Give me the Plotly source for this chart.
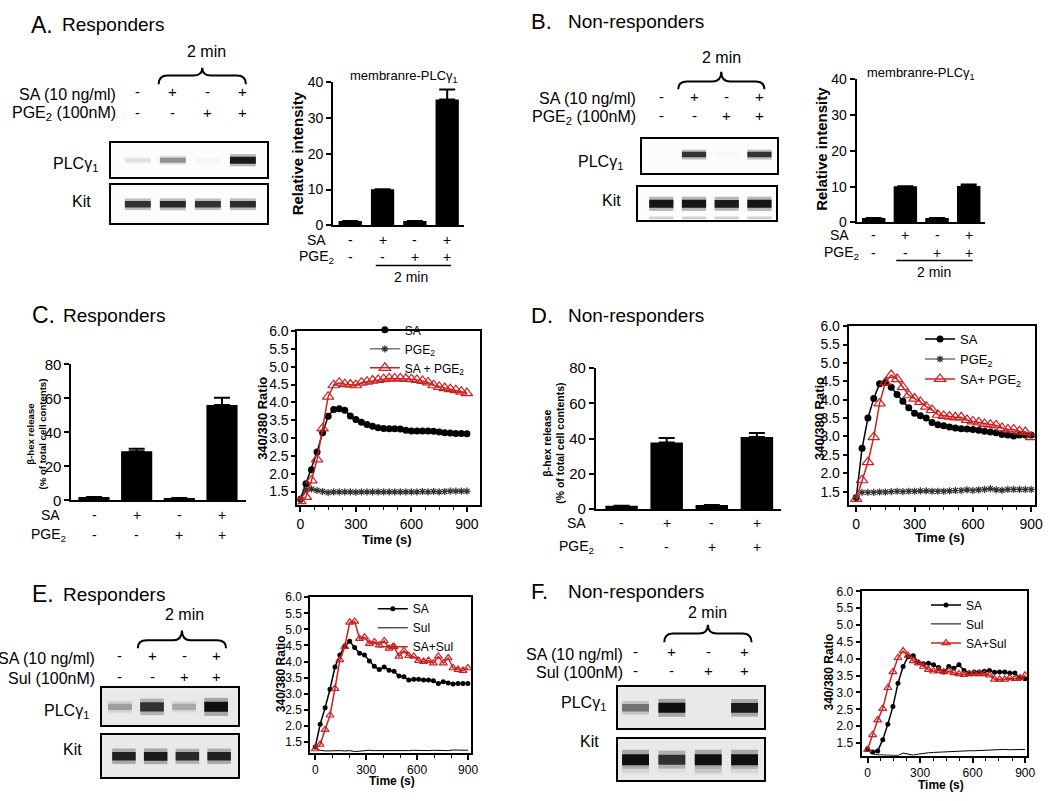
import plotly.graph_objects as go

W, H = 1050, 801
FONT = "Liberation Sans, Arial, sans-serif"
RED = "#cc2020"

# ---------------- data ----------------
lanes = [1, 2, 3, 4]
groups = [0, 1, 2, 3]
sa_signs = ["-", "+", "-", "+"]
pge2_signs = ["-", "-", "+", "+"]
sul_signs = ["-", "-", "+", "+"]

# western blot band darkness per lane (0 = no band, 1 = saturated)
a_plc = [0.12, 0.45, 0.03, 0.95]
a_kit = [0.85, 0.9, 0.85, 0.88]
b_plc = [0.0, 0.85, 0.02, 0.85]
b_kit = [0.97, 0.97, 0.95, 0.97]
b_kit_low = [0.18, 0.18, 0.18, 0.18]
e_plc = [0.35, 0.85, 0.3, 1.0]
e_kit = [0.92, 0.95, 0.88, 0.92]
f_plc = [0.55, 1.0, 0.0, 0.95]
f_kit = [1.0, 0.85, 1.0, 1.0]
f_kit_low = [0.08, 0.05, 0.15, 0.08]

# membrane PLCg1, relative intensity
a_rel = [1.2, 10.1, 1.2, 35.2]
a_rel_err = [0, 0, 0, 2.8]
b_rel = [1.2, 10.1, 1.2, 10.2]
b_rel_err = [0, 0, 0, 0.4]

# beta-hex release (% of total cell contents)
c_hex = [1.9, 28.8, 1.4, 56.0]
c_hex_err = [0, 1.6, 0, 4.4]
d_hex = [1.9, 37.8, 2.3, 41.0]
d_hex_err = [0, 2.6, 0, 2.2]

# calcium traces, 340/380 ratio
time_30 = [0, 30, 60, 90, 120, 150, 180, 210, 240, 270, 300, 330, 360, 390, 420, 450,
           480, 510, 540, 570, 600, 630, 660, 690, 720, 750, 780, 810, 840, 870, 900]
time_29 = [0, 29, 58, 87, 116, 145, 174, 203, 232, 261, 290, 319, 348, 377, 406, 435,
           464, 493, 522, 551, 580, 609, 638, 667, 696, 725, 754, 783, 812, 841, 870, 899]

c_sa = [1.28, 1.72, 2.11, 2.61, 3.15, 3.61, 3.80, 3.82, 3.78, 3.62, 3.52, 3.44, 3.38, 3.33, 3.29, 3.27,
        3.26, 3.26, 3.25, 3.22, 3.20, 3.20, 3.20, 3.20, 3.19, 3.17, 3.15, 3.14, 3.13, 3.13, 3.12]
c_pge2 = [1.28, 1.55, 1.57, 1.53, 1.50, 1.47, 1.49, 1.49, 1.49, 1.49, 1.48, 1.49, 1.49, 1.49, 1.49, 1.49,
          1.49, 1.49, 1.49, 1.49, 1.49, 1.49, 1.50, 1.49, 1.50, 1.49, 1.50, 1.51, 1.51, 1.51, 1.51]
c_sa_pge2 = [1.23, 1.35, 1.81, 2.40, 3.27, 4.16, 4.48, 4.55, 4.51, 4.50, 4.48, 4.55, 4.58, 4.61, 4.63, 4.65,
             4.67, 4.67, 4.67, 4.66, 4.65, 4.63, 4.60, 4.56, 4.48, 4.43, 4.40, 4.37, 4.34, 4.30, 4.26]

d_sa = [1.34, 2.68, 3.50, 4.03, 4.43, 4.47, 4.34, 4.14, 3.96, 3.78, 3.63, 3.56, 3.50, 3.38, 3.32, 3.29,
        3.26, 3.23, 3.21, 3.20, 3.19, 3.17, 3.14, 3.12, 3.10, 3.05, 3.04, 3.01, 3.04, 3.04, 3.04]
d_pge2 = [1.34, 1.48, 1.48, 1.48, 1.49, 1.49, 1.50, 1.51, 1.50, 1.51, 1.51, 1.52, 1.52, 1.51, 1.51, 1.51,
          1.52, 1.53, 1.53, 1.55, 1.53, 1.55, 1.56, 1.58, 1.55, 1.54, 1.56, 1.56, 1.56, 1.56, 1.56]
d_sa_pge2 = [1.30, 1.81, 2.30, 2.98, 3.90, 4.47, 4.67, 4.56, 4.34, 4.12, 4.03, 3.94, 3.81, 3.72, 3.59, 3.56,
             3.54, 3.52, 3.52, 3.45, 3.41, 3.38, 3.34, 3.32, 3.30, 3.23, 3.19, 3.19, 3.14, 3.12, 2.98]

e_sa = [1.34, 2.05, 2.56, 3.14, 3.83, 4.20, 4.48, 4.63, 4.44, 4.26, 4.20, 4.02, 3.85, 3.75, 3.83, 3.73,
        3.70, 3.55, 3.53, 3.43, 3.45, 3.45, 3.43, 3.43, 3.40, 3.32, 3.37, 3.33, 3.30, 3.32, 3.32, 3.32]
e_sul = [1.30, 1.24, 1.22, 1.23, 1.22, 1.23, 1.22, 1.23, 1.20, 1.22, 1.23, 1.24, 1.23, 1.23, 1.22, 1.23,
         1.22, 1.21, 1.22, 1.23, 1.24, 1.23, 1.22, 1.23, 1.24, 1.23, 1.24, 1.23, 1.25, 1.24, 1.24, 1.24]
e_sa_sul = [1.28, 1.42, 1.88, 2.33, 3.16, 4.05, 4.46, 5.22, 5.25, 4.71, 4.76, 4.56, 4.61, 4.51, 4.64, 4.41,
            4.46, 4.16, 4.33, 4.18, 4.16, 4.03, 4.00, 4.03, 3.95, 4.16, 3.95, 4.11, 3.80, 3.75, 3.72, 3.80]

f_sa = [1.32, 1.23, 1.26, 1.60, 2.06, 2.58, 3.27, 3.77, 4.06, 4.09, 3.90, 3.85, 3.87, 3.82, 3.74, 3.61,
        3.77, 3.72, 3.82, 3.65, 3.58, 3.61, 3.61, 3.63, 3.65, 3.60, 3.61, 3.61, 3.58, 3.58, 3.42, 3.41]
f_sul = [1.28, 1.18, 1.15, 1.14, 1.14, 1.13, 1.13, 1.20, 1.17, 1.14, 1.17, 1.20, 1.21, 1.22, 1.23, 1.24,
         1.25, 1.26, 1.26, 1.27, 1.27, 1.27, 1.28, 1.28, 1.28, 1.29, 1.30, 1.31, 1.30, 1.31, 1.32, 1.31]
f_sa_sul = [1.30, 1.74, 2.18, 2.52, 3.14, 3.61, 4.03, 4.23, 4.09, 3.94, 3.87, 3.77, 3.68, 3.63, 3.65, 3.61,
            3.63, 3.58, 3.55, 3.53, 3.55, 3.55, 3.55, 3.55, 3.51, 3.39, 3.39, 3.39, 3.43, 3.41, 3.43, 3.51]

# ---------------- helpers ----------------
fig = go.Figure()
axes = {}
anns = []
shapes = []


def ids(k):
    return ("x", "y") if k == 1 else (f"x{k}", f"y{k}")


def axis_pair(k, box, xr, yr, xkw, ykw):
    x0, x1, yt, yb = box
    xid, yid = ids(k)
    base = dict(showgrid=False, zeroline=False, fixedrange=True, linecolor="black",
                tickcolor="black")
    xa = dict(base, domain=[x0 / W, x1 / W], range=xr, anchor=yid)
    ya = dict(base, domain=[1 - yb / H, 1 - yt / H], range=yr, anchor=xid)
    xa.update(xkw)
    ya.update(ykw)
    axes["xaxis" if k == 1 else f"xaxis{k}"] = xa
    axes["yaxis" if k == 1 else f"yaxis{k}"] = ya
    return xid, yid


def note(x, y, text, size, xanchor="center", xref="paper", bold=False, angle=0):
    if bold:
        text = f"<b>{text}</b>"
    anns.append(dict(x=x / W if xref == "paper" else x, y=1 - y / H, xref=xref, yref="paper",
                     text=text, showarrow=False, xanchor=xanchor, yanchor="middle",
                     textangle=angle, font=dict(family=FONT, size=size, color="black")))


def hline(x0, x1, y, width=1.5):
    shapes.append(dict(type="line", xref="paper", yref="paper", x0=x0 / W, x1=x1 / W,
                       y0=1 - y / H, y1=1 - y / H, line=dict(color="black", width=width)))


def brace(xl, xr, yb, ym, yt):
    xc = (xl + xr) / 2
    r = 9
    X = lambda v: f"{v / W:.5f}"
    Y = lambda v: f"{1 - v / H:.5f}"
    path = (f"M {X(xl)},{Y(yb)} Q {X(xl)},{Y(ym)} {X(xl + r)},{Y(ym)} L {X(xc - r)},{Y(ym)} "
            f"Q {X(xc)},{Y(ym)} {X(xc)},{Y(yt)} Q {X(xc)},{Y(ym)} {X(xc + r)},{Y(ym)} "
            f"L {X(xr - r)},{Y(ym)} Q {X(xr)},{Y(ym)} {X(xr)},{Y(yb)}")
    shapes.append(dict(type="path", xref="paper", yref="paper", path=path,
                       line=dict(color="black", width=2)))


blot_kw = dict(showline=True, mirror=True, linewidth=1.5, showticklabels=False, ticks="")


def blot(k, box, lane_px, rows, bg_gray, band_px):
    x0, x1, yt, yb = box
    s = (lane_px[1] - lane_px[0]) / 3
    xr = [1 - (lane_px[0] - x0) / s, 4 + (x1 - lane_px[1]) / s]
    xid, yid = axis_pair(k, box, xr, [-1, 1], blot_kw, blot_kw)
    shapes.append(dict(type="rect", xref=f"{xid} domain", yref=f"{yid} domain", x0=0, x1=1,
                       y0=0, y1=1, fillcolor=f"rgb({bg_gray},{bg_gray},{bg_gray})",
                       line_width=0, layer="below"))
    for intens, level, scale in rows:
        for lane, v in zip(lanes, intens):
            if v < 0.02:
                continue
            g = int(round(bg_gray - (bg_gray - 15) * v))
            w = band_px * scale * (0.45 + 0.55 * v)
            for width, op in [(w * 1.8, 0.3), (w, 1.0)]:
                fig.add_trace(go.Scatter(
                    x=[lane - 0.37, lane + 0.37], y=[level, level], mode="lines",
                    line=dict(color=f"rgb({g},{g},{g})", width=width), opacity=op,
                    xaxis=xid, yaxis=yid, showlegend=False, hoverinfo="skip"))
    return xid


def bar_chart(k, box, xr, yr, dtick, vals, errs, bar_w, tick_size):
    xkw = dict(showline=True, linewidth=2, showticklabels=False, ticks="")
    ykw = dict(showline=True, linewidth=2, ticks="outside", ticklen=5, tickwidth=2,
               dtick=dtick, tick0=0, tickfont=dict(family=FONT, size=tick_size, color="black"))
    xid, yid = axis_pair(k, box, xr, yr, xkw, ykw)
    fig.add_trace(go.Bar(
        x=groups, y=vals, width=bar_w, marker=dict(color="black", line_width=0),
        error_y=dict(type="data", symmetric=False, array=errs, arrayminus=[0] * len(errs),
                     color="black", thickness=2, width=8),
        xaxis=xid, yaxis=yid, showlegend=False, hoverinfo="skip"))
    return xid


def line_chart(k, box, xr, yr, minor_dt, tick_size, legend_id, series):
    common = dict(showline=True, mirror=True, linewidth=2, ticks="outside", ticklen=5,
                  tickwidth=1.5, tickfont=dict(family=FONT, size=tick_size, color="black"))
    xkw = dict(common, dtick=300, tick0=0,
               minor=dict(dtick=minor_dt, tick0=0, ticks="outside", ticklen=3,
                          tickcolor="black", tickwidth=1.2))
    ykw = dict(common, dtick=0.5, tick0=1.5, tickformat=".1f", ticklen=4)
    xid, yid = axis_pair(k, box, xr, yr, xkw, ykw)
    for name, t, y, style in series:
        fig.add_trace(go.Scatter(x=t, y=y, name=name, legend=legend_id, xaxis=xid, yaxis=yid,
                                 hoverinfo="skip", **style))


def legend_box(x, y, size):
    return dict(x=x / W, y=1 - y / H, xanchor="left", yanchor="top", bgcolor="rgba(0,0,0,0)",
                font=dict(family=FONT, size=size, color="black"), itemwidth=30,
                tracegroupgap=0, itemclick=False, itemdoubleclick=False)


def sa_style(size):
    return dict(mode="lines+markers", line=dict(color="black", width=1.5),
                marker=dict(symbol="circle", size=size, color="black"))


def tri_style(size):
    return dict(mode="lines+markers", line=dict(color=RED, width=1.5),
                marker=dict(symbol="triangle-up-open", size=size, color=RED,
                            line=dict(color=RED, width=1.2)))


pge2_style = dict(mode="lines+markers", line=dict(color="#333333", width=1),
                  marker=dict(symbol="asterisk-open", size=6, line=dict(color="#999999", width=1.2)))
sul_style = dict(mode="lines", line=dict(color="black", width=1))

# ---------------- panel A ----------------
note(28, 16, "A.", 23, "left")
note(60, 16, "Responders", 19, "left")
note(207, 43, "2 min", 16)
brace(159, 247, 77, 68, 60)
note(118, 87, "SA (10 ng/ml)", 16, "right")
note(118, 107, "PGE<sub>2</sub> (100nM)", 16, "right")
xa = blot(1, (111, 268, 137, 172), (138, 244), [(a_plc, 0, 1.0)], 252, 7)
blot(2, (111, 268, 180, 219), (138, 244), [(a_kit, 0, 1.0)], 252, 7)
for lane, s1, s2 in zip(lanes, sa_signs, pge2_signs):
    note(lane, 84, s1, 15, xref=xa)
    note(lane, 106, s2, 15, xref=xa)
note(75, 159, "PLCγ<sub>1</sub>", 16)
note(81, 197, "Kit", 16)

xb = bar_chart(3, (335, 467, 75, 221), [-0.53, 3.52], [0, 40], 10, a_rel, a_rel_err, 0.72, 14)
note(406, 69, "membranre-PLCγ<sub>1</sub>", 13)
note(299, 147, "Relative intensity", 15, bold=True, angle=-90)
note(330, 236, "SA", 14, "right")
note(338, 253, "PGE<sub>2</sub>", 14, "right")
for g, s1, s2 in zip(groups, sa_signs, pge2_signs):
    note(g, 236, s1, 14, xref=xb)
    note(g, 253, s2, 14, xref=xb)
hline(378, 454, 262)
note(414, 274, "2 min", 14)

# ---------------- panel B ----------------
note(533, 13, "B.", 22, "left")
note(570, 13, "Non-responders", 19, "left")
note(727, 50, "2 min", 16)
brace(683, 770, 82, 74, 64)
note(643, 91, "SA (10 ng/ml)", 16, "right")
note(643, 111, "PGE<sub>2</sub> (100nM)", 16, "right")
xa = blot(4, (647, 783, 133, 168), (666, 765), [(b_plc, 0.1, 1.0)], 252, 6)
blot(5, (643, 782, 182, 216), (666, 765), [(b_kit, 0, 1.0), (b_kit_low, -0.85, 0.5)], 252, 8)
for lane, s1, s2 in zip(lanes, sa_signs, pge2_signs):
    note(lane, 89, s1, 15, xref=xa)
    note(lane, 109, s2, 15, xref=xa)
note(605, 157, "PLCγ<sub>1</sub>", 16)
note(616, 196, "Kit", 16)

xb = bar_chart(6, (863, 993, 72, 218), [-0.54, 3.53], [0, 40], 10, b_rel, b_rel_err, 0.74, 14)
note(928, 66, "membranre-PLCγ<sub>1</sub>", 13)
note(828, 143, "Relative intensity", 15, bold=True, angle=-90)
note(857, 231, "SA", 14, "right")
note(867, 249, "PGE<sub>2</sub>", 14, "right")
for g, s1, s2 in zip(groups, sa_signs, pge2_signs):
    note(g, 231, s1, 14, xref=xb)
    note(g, 249, s2, 14, xref=xb)
hline(903, 980, 257)
note(941, 269, "2 min", 14)

# ---------------- panel C ----------------
note(29, 313, "C.", 23, "left")
note(61, 313, "Responders", 19, "left")
xb = bar_chart(7, (71, 247, 363, 502), [-0.53, 3.56], [0, 80], 20, c_hex, c_hex_err, 0.73, 15)
note(36, 434, "β-hex release<br>(% of total cell contents)", 9.6, bold=True, angle=-90)
note(62, 517, "SA", 14, "right")
note(68, 537, "PGE<sub>2</sub>", 14, "right")
for g, s1, s2 in zip(groups, sa_signs, pge2_signs):
    note(g, 517, s1, 14, xref=xb)
    note(g, 537, s2, 14, xref=xb)

line_chart(8, (299, 483, 329, 507), [-16, 970], [1.115, 6.0], 75, 14, "legend", [
    ("SA", time_30, c_sa, sa_style(7)),
    ("PGE<sub>2</sub>", time_30, c_pge2, pge2_style),
    ("SA + PGE<sub>2</sub>", time_30, c_sa_pge2, tri_style(10)),
])
note(263, 418, "340/380 Ratio", 13, bold=True, angle=-90)
note(389, 542, "Time (s)", 13, bold=True)

# ---------------- panel D ----------------
note(533, 313, "D.", 22, "left")
note(570, 313, "Non-responders", 19, "left")
xb = bar_chart(9, (600, 787, 367, 511), [-0.57, 3.54], [0, 80], 20, d_hex, d_hex_err, 0.72, 15)
note(557, 444, "β-hex release<br>(% of total cell contents)", 10.5, bold=True, angle=-90)
note(592, 525, "SA", 14, "right")
note(600, 550, "PGE<sub>2</sub>", 14, "right")
for g, s1, s2 in zip(groups, sa_signs, pge2_signs):
    note(g, 525, s1, 14, xref=xb)
    note(g, 550, s2, 14, xref=xb)

line_chart(10, (855, 1043, 324, 507), [-39, 920], [1.13, 6.0], 75, 14, "legend2", [
    ("SA", time_30, d_sa, sa_style(7)),
    ("PGE<sub>2</sub>", time_30, d_pge2, pge2_style),
    ("SA+ PGE<sub>2</sub>", time_30, d_sa_pge2, tri_style(10)),
])
note(825, 418, "340/380 Ratio", 13, bold=True, angle=-90)
note(947, 540, "Time (s)", 13, bold=True)

# ---------------- panel E ----------------
note(29, 598, "E.", 23, "left")
note(61, 598, "Responders", 19, "left")
note(185, 619, "2 min", 16)
brace(138, 227, 653, 645, 635)
note(97, 664, "SA (10 ng/ml)", 16, "right")
note(97, 684, "Sul (100nM)", 16, "right")
xa = blot(11, (102, 239, 694, 732), (120, 217), [(e_plc, 0, 1.0)], 233, 10)
blot(12, (102, 239, 742, 785), (124, 220), [(e_kit, 0, 1.0)], 233, 9)
for lane, s1, s2 in zip(lanes, sa_signs, sul_signs):
    note(lane, 661, s1, 15, xref=xa)
    note(lane, 682, s2, 15, xref=xa)
note(66, 718, "PLCγ<sub>1</sub>", 16)
note(72, 757, "Kit", 16)

line_chart(13, (312, 474, 601, 760), [-29, 917], [1.16, 6.0], 100, 12, "legend3", [
    ("SA", time_29, e_sa, sa_style(5)),
    ("Sul", time_29, e_sul, sul_style),
    ("SA+Sul", time_29, e_sa_sul, tri_style(7)),
])
note(282, 679, "340/380 Ratio", 12, bold=True, angle=-90)
note(394, 789, "Time (s)", 12, bold=True)

# ---------------- panel F ----------------
note(533, 595, "F.", 22, "left")
note(570, 595, "Non-responders", 19, "left")
note(713, 617, "2 min", 16)
brace(669, 757, 647, 638, 629)
note(629, 659, "SA (10 ng/ml)", 16, "right")
note(629, 678, "Sul (100nM)", 16, "right")
xa = blot(14, (622, 770, 693, 735), (640, 750), [(f_plc, 0, 1.0)], 233, 10)
blot(15, (622, 770, 746, 788), (640, 750), [(f_kit, 0, 1.0), (f_kit_low, -0.55, 0.7)], 233, 11)
for lane, s1, s2 in zip(lanes, sa_signs, sul_signs):
    note(lane, 656, s1, 15, xref=xa)
    note(lane, 676, s2, 15, xref=xa)
note(588, 710, "PLCγ<sub>1</sub>", 16)
note(594, 748, "Kit", 16)

line_chart(16, (868, 1035, 595, 763), [-34, 911], [1.12, 6.0], 75, 12, "legend4", [
    ("SA", time_29, f_sa, sa_style(5)),
    ("Sul", time_29, f_sul, sul_style),
    ("SA+Sul", time_29, f_sa_sul, tri_style(7)),
])
note(835, 677, "340/380 Ratio", 12, bold=True, angle=-90)
note(948, 793, "Time (s)", 12, bold=True)

# ---------------- layout ----------------
fig.update_layout(
    width=W, height=H, margin=dict(l=0, r=0, t=0, b=0),
    paper_bgcolor="white", plot_bgcolor="white",
    font=dict(family=FONT, color="black"),
    annotations=anns, shapes=shapes,
    legend=legend_box(367, 313, 12),
    legend2=legend_box(927, 322, 13),
    legend3=legend_box(375, 598, 12),
    legend4=legend_box(933, 594, 12),
    **axes,
)

page_css = ("document.documentElement.style.margin='0';document.body.style.margin='0';"
            "document.documentElement.style.overflow='hidden';document.body.style.overflow='hidden';")
fig.write_html("out.html", config={"displayModeBar": False}, post_script=page_css)
